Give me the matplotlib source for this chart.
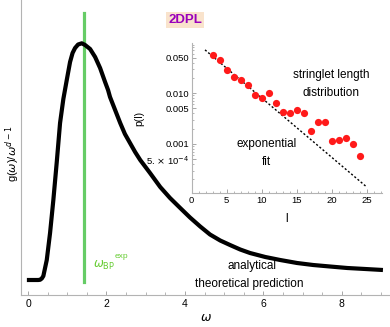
import matplotlib
matplotlib.use("Agg")
import matplotlib.pyplot as plt
from matplotlib.ticker import MultipleLocator, FixedLocator, NullLocator

plt.rcParams['font.family'] = ['Liberation Sans', 'DejaVu Sans']
plt.rcParams['mathtext.fontset'] = 'dejavusans'

# main curve: omega vs g(omega)/omega^(d-1) (arbitrary units)
omega = [-0.03, 0.255, 0.306, 0.35, 0.39, 0.477, 0.561, 0.645, 0.732, 0.816, 0.90,
         0.987, 1.071, 1.135, 1.199, 1.276, 1.37, 1.454, 1.582, 1.71, 1.837, 1.964,
         2.04, 2.09, 2.22, 2.35, 2.47, 2.60, 2.73, 2.86, 3.11, 3.37, 3.62, 3.88,
         4.13, 4.39, 4.64, 4.9, 5.15, 5.41, 5.66, 6.05, 6.43, 6.86, 7.27, 7.70,
         8.14, 8.6, 9.05]
g_red = [0.15, 0.15, 0.152, 0.165, 0.19, 0.35, 0.62, 0.95, 1.33, 1.72, 1.96,
         2.15, 2.33, 2.42, 2.47, 2.505, 2.517, 2.50, 2.46, 2.38, 2.27, 2.13,
         2.05, 1.98, 1.85, 1.72, 1.61, 1.52, 1.43, 1.35, 1.22, 1.08, 0.97, 0.87,
         0.775, 0.685, 0.605, 0.545, 0.50, 0.455, 0.42, 0.38, 0.35, 0.32, 0.30, 0.285,
         0.27, 0.26, 0.25]
omega_bp = 1.42
bp_span = [0.13, 2.82]

# inset: stringlet length distribution
l_vals = [3, 4, 5, 6, 7, 8, 9, 10, 11, 12, 13, 14, 15, 16, 17, 18, 19, 20, 21, 22, 23, 24]
p_vals = [0.0565, 0.045, 0.0286, 0.0208, 0.0182, 0.0143, 0.0091, 0.0079, 0.0102,
          0.0063, 0.0043, 0.0040, 0.0047, 0.0040, 0.0018, 0.00275, 0.00267,
          0.00115, 0.0012, 0.0013, 0.0010, 0.00058]
fit_l = [1.9, 25]
fit_p = [0.071, 1.41e-4]

main_xticks = [0, 2, 4, 6, 8]
inset_xticks = [0, 5, 10, 15, 20, 25]
inset_yticks = [0.05, 0.01, 0.005, 0.001, 5e-4]
inset_ylabels = ['0.050', '0.010', '0.005', '0.001', r'5. $\times$ 10$^{-4}$']

spine_col = '#b3b3b3'
tick_col = '#999999'
green_line = '#66cc66'
green_text = '#66cc33'

fig = plt.figure(figsize=(3.9, 3.27), dpi=100)
ax = fig.add_axes([21/390, 1-295/327, 1-21/390, 295/327])
ax.plot(omega, g_red, color='black', lw=3.0, solid_capstyle='butt',
        solid_joinstyle='round', zorder=3)
ax.plot([omega_bp, omega_bp], bp_span, color=green_line, lw=2.3, zorder=2)
ax.set_xlim(-0.18, 9.23)
ax.set_ylim(0, 2.95)
for s in ['top', 'right']:
    ax.spines[s].set_visible(False)
for s in ['left', 'bottom']:
    ax.spines[s].set_color(spine_col)
    ax.spines[s].set_linewidth(0.8)
ax.yaxis.set_major_locator(NullLocator())
ax.xaxis.set_major_locator(FixedLocator(main_xticks))
ax.xaxis.set_minor_locator(MultipleLocator(0.5))
ax.tick_params(axis='x', which='major', direction='in', length=3, width=0.6,
               color=tick_col, labelsize=7.5, pad=3)
ax.tick_params(axis='x', which='minor', direction='in', length=2, width=0.5, color=tick_col)
ax.set_xlabel(r'$\omega$', fontsize=9, labelpad=2)
ax.set_ylabel(r'g($\omega$)/$\omega^{d-1}$', fontsize=8, va='center', ha='center')
ax.yaxis.set_label_coords(-0.0225, 0.48)

ax.text(1.66, 0.30, r'$\omega_{\mathrm{BP}}$', color=green_text, fontsize=8.5,
        ha='left', va='center')
ax.text(2.2, 0.38, 'exp', color=green_text, fontsize=6, ha='left', va='center')
ax.text(5.72, 0.29, 'analytical', fontsize=8.5, ha='center', va='center')
ax.text(5.65, 0.11, 'theoretical prediction', fontsize=8.5, ha='center', va='center')

fig.text(185/390, 1-20/327, '2DPL', color='#9900bb', fontsize=9.5, fontweight='bold',
         ha='center', va='center',
         bbox=dict(boxstyle='square,pad=0.15', fc='#f9e3cc', ec='none'))

ins = fig.add_axes([191.7/390, 1-193.3/327, 190/390, 150.3/327])
ins.set_yscale('log')
ins.plot(l_vals, p_vals, 'o', color='#ff1a1a', ms=5.2, mec='none', zorder=3)
ins.plot(fit_l, fit_p, color='black', lw=1.0, ls=(0, (1.5, 1.5)), zorder=2)
ins.set_xlim(0, 27.1)
ins.set_ylim(1.07e-4, 0.097)
ins.patch.set_alpha(0)
for s in ['top', 'right']:
    ins.spines[s].set_visible(False)
for s in ['left', 'bottom']:
    ins.spines[s].set_color(spine_col)
    ins.spines[s].set_linewidth(0.8)
ins.xaxis.set_major_locator(FixedLocator(inset_xticks))
ins.xaxis.set_minor_locator(MultipleLocator(1))
ins.yaxis.set_major_locator(FixedLocator(inset_yticks))
ins.set_yticklabels(inset_ylabels)
ins.tick_params(axis='both', which='major', direction='in', length=3, width=0.6,
                color=tick_col, labelsize=6.8, pad=2)
ins.tick_params(axis='both', which='minor', direction='in', length=1.6, width=0.5,
                color=tick_col)
ins.set_xlabel('l', fontsize=8.5, labelpad=6)
ins.set_ylabel('p(l)', fontsize=7.5, labelpad=1)
ins.text(19.9, 0.0225, 'stringlet length', fontsize=8.5, ha='center', va='center')
ins.text(19.9, 0.0102, 'distribution', fontsize=8.5, ha='center', va='center')
ins.text(10.7, 0.00099, 'exponential', fontsize=8.5, ha='center', va='center')
ins.text(10.7, 0.00044, 'fit', fontsize=8.5, ha='center', va='center')

fig.savefig('out.png', dpi=100)
